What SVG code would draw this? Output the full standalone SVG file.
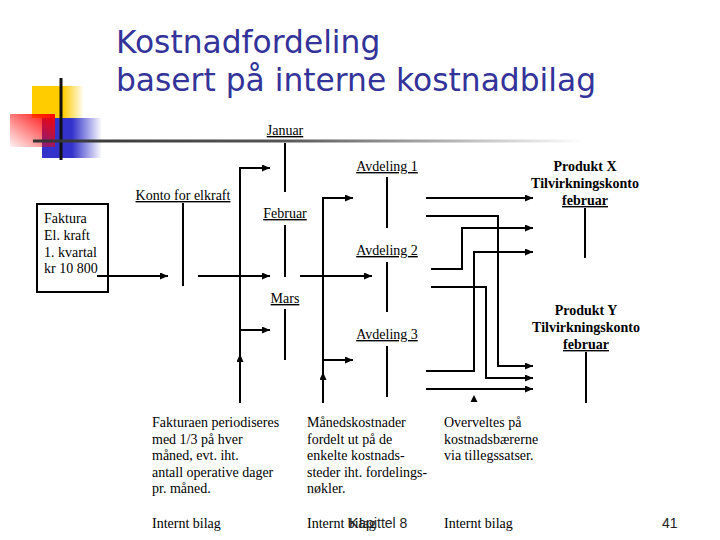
<svg xmlns="http://www.w3.org/2000/svg" width="720" height="540" viewBox="0 0 720 540">
<style>
.t{font-family:"Liberation Serif","Times New Roman",serif;font-size:14px;fill:#000}
.u{text-decoration:underline}
.b{font-weight:bold;font-size:14px}
.ttl{font-family:"DejaVu Sans",Verdana,sans-serif;font-size:31.3px;fill:#333399}
.s{font-family:"Liberation Sans",Arial,sans-serif;font-size:14px;fill:#222}
.ln{stroke:#000;stroke-width:2;fill:none}
.ar{stroke:#000;stroke-width:2;fill:none;marker-end:url(#ah)}
</style>
<defs>
<marker id="ah" markerUnits="userSpaceOnUse" markerWidth="9" markerHeight="8" refX="8" refY="3.5" orient="auto">
<path d="M0,0 L8,3.5 L0,7 z" fill="#000"/>
</marker>
<linearGradient id="gl" x1="33" y1="0" x2="585" y2="0" gradientUnits="userSpaceOnUse">
<stop offset="0" stop-color="#333"/>
<stop offset="0.45" stop-color="#555"/>
<stop offset="1" stop-color="#fff"/>
</linearGradient>
<linearGradient id="gy" x1="0" y1="0" x2="1" y2="0">
<stop offset="0" stop-color="#FFCC00"/>
<stop offset="0.6" stop-color="#FFCC00"/>
<stop offset="1" stop-color="#FFCC00" stop-opacity="0"/>
</linearGradient>
<linearGradient id="gb" x1="0" y1="0" x2="1" y2="0">
<stop offset="0" stop-color="#3333CC"/>
<stop offset="0.5" stop-color="#3333CC"/>
<stop offset="1" stop-color="#3333CC" stop-opacity="0"/>
</linearGradient>
<linearGradient id="gr" x1="1" y1="0" x2="0" y2="1">
<stop offset="0" stop-color="#FF0000"/>
<stop offset="1" stop-color="#FF0000" stop-opacity="0.05"/>
</linearGradient>
</defs>
<rect width="720" height="540" fill="#fff"/>
<g id="logo">
<rect x="32" y="86" width="52" height="32" fill="url(#gy)"/>
<rect x="42" y="118" width="60" height="40" fill="url(#gb)"/>
<rect x="10" y="114" width="45" height="33" fill="url(#gr)"/>
<line x1="61" y1="78" x2="61" y2="160" stroke="#111" stroke-width="3"/>
<line x1="33" y1="141" x2="585" y2="141" stroke="url(#gl)" stroke-width="3"/>
</g>
<g id="title">
<text class="ttl" x="116" y="53">Kostnadfordeling</text>
<text class="ttl" x="116" y="91">basert på interne kostnadbilag</text>
</g>
<g id="faktura">
<rect x="37" y="204" width="71" height="88" fill="none" stroke="#000" stroke-width="2"/>
<text class="t" x="44" y="223">Faktura</text>
<text class="t" x="44" y="240">El. kraft</text>
<text class="t" x="44" y="257">1. kvartal</text>
<text class="t" x="44" y="273">kr 10 800</text>
</g>
<g id="konto">
<text class="t u" x="183" y="200" text-anchor="middle">Konto for elkraft</text>
<line class="ln" x1="183" y1="203" x2="183" y2="286"/>
</g>
<g id="januar">
<text class="t u" x="285" y="135" text-anchor="middle">Januar</text>
<line class="ln" x1="285" y1="143" x2="285" y2="192"/>
</g>
<g id="februar">
<text class="t u" x="285" y="218" text-anchor="middle">Februar</text>
<line class="ln" x1="285" y1="225" x2="285" y2="277"/>
</g>
<g id="mars">
<text class="t u" x="285" y="303" text-anchor="middle">Mars</text>
<line class="ln" x1="285" y1="309" x2="285" y2="360"/>
</g>
<g id="avd1">
<text class="t u" x="387" y="171" text-anchor="middle">Avdeling 1</text>
<line class="ln" x1="387" y1="177" x2="387" y2="228"/>
</g>
<g id="avd2">
<text class="t u" x="387" y="255" text-anchor="middle">Avdeling 2</text>
<line class="ln" x1="387" y1="262" x2="387" y2="312"/>
</g>
<g id="avd3">
<text class="t u" x="387" y="339" text-anchor="middle">Avdeling 3</text>
<line class="ln" x1="387" y1="346" x2="387" y2="397"/>
</g>
<g id="produktX">
<text class="t b" x="585" y="171" text-anchor="middle">Produkt X</text>
<text class="t b" x="585" y="188" text-anchor="middle">Tilvirkningskonto</text>
<text class="t b u" x="585" y="205" text-anchor="middle">februar</text>
<line class="ln" x1="585" y1="208" x2="585" y2="258"/>
</g>
<g id="produktY">
<text class="t b" x="586" y="315" text-anchor="middle">Produkt Y</text>
<text class="t b" x="586" y="332" text-anchor="middle">Tilvirkningskonto</text>
<text class="t b u" x="586" y="349" text-anchor="middle">februar</text>
<line class="ln" x1="586" y1="352" x2="586" y2="403"/>
</g>
<g id="connectors">
<line class="ar" x1="97" y1="276" x2="168" y2="276"/>
<line class="ar" x1="198" y1="276" x2="270" y2="276"/>
<line class="ar" x1="300" y1="276" x2="372" y2="276"/>
<polyline class="ar" points="240,403 240,168 270,168"/>
<polyline class="ar" points="240,168 240,330 270,330"/>
<line class="ar" x1="240" y1="403" x2="240" y2="354"/>
<polyline class="ar" points="323,403 323,198 353,198"/>
<polyline class="ar" points="323,198 323,360 353,360"/>
<line class="ar" x1="323" y1="403" x2="323" y2="372"/>
<line class="ar" x1="426" y1="198" x2="533" y2="198"/>
<polyline class="ar" points="426,216 498,216 498,366 533,366"/>
<polyline class="ar" points="431,269 462,269 462,228 533,228"/>
<polyline class="ar" points="431,287 486,287 486,378 533,378"/>
<polyline class="ar" points="426,371 474,371 474,252 533,252"/>
<line class="ar" x1="426" y1="389" x2="533" y2="389"/>
<path d="M470.5,402 L474,395 L477.5,402 z" fill="#000"/>
</g>
<g id="notes">
<text class="t" x="152" y="427">Fakturaen periodiseres</text>
<text class="t" x="152" y="443.5">med 1/3 på hver</text>
<text class="t" x="152" y="460">måned, evt. iht.</text>
<text class="t" x="152" y="476.5">antall operative dager</text>
<text class="t" x="152" y="493">pr. måned.</text>
<text class="t" x="152" y="528">Internt bilag</text>
<text class="t" x="307" y="427">Månedskostnader</text>
<text class="t" x="307" y="443.5">fordelt ut på de</text>
<text class="t" x="307" y="460">enkelte kostnads-</text>
<text class="t" x="307" y="476.5">steder iht. fordelings-</text>
<text class="t" x="307" y="493">nøkler.</text>
<text class="t" x="307" y="528">Internt bilag</text>
<text class="t" x="444" y="427">Overveltes på</text>
<text class="t" x="444" y="443.5">kostnadsbærerne</text>
<text class="t" x="444" y="460">via tillegssatser.</text>
<text class="t" x="444" y="528">Internt bilag</text>
<text class="s" x="349" y="528">Kapittel 8</text>
<text class="s" x="662" y="528">41</text>
</g>
</svg>
